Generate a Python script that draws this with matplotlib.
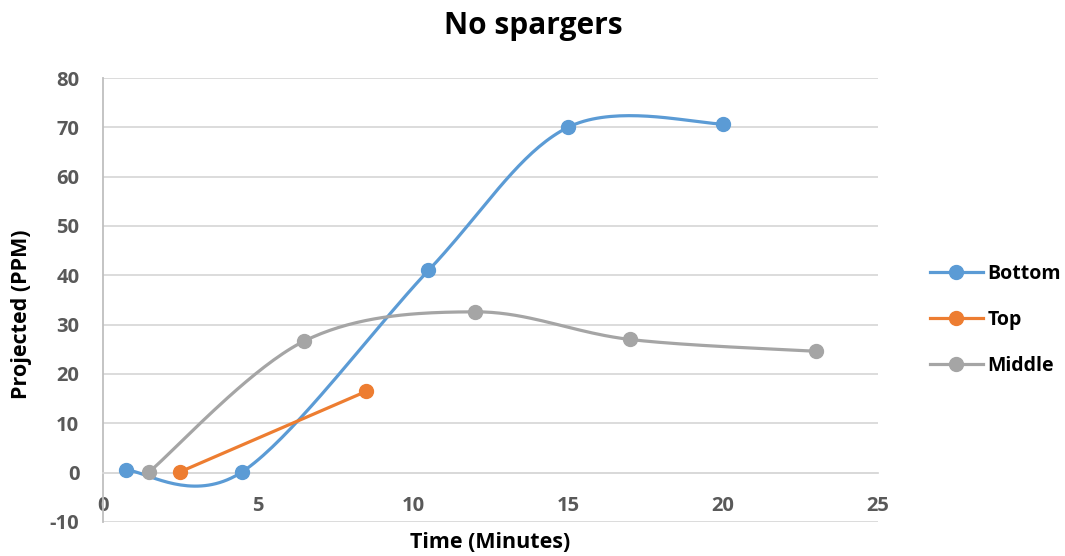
import numpy as np
import matplotlib
matplotlib.use("Agg")
import matplotlib.pyplot as plt

# series read as (minutes, ppm)
bottom_x = [0.75, 4.5, 10.5, 15, 20]
bottom_y = [0.5, 0.2, 41, 70, 70.7]
top_x = [2.5, 8.5]
top_y = [0.2, 16.5]
middle_x = [1.5, 6.5, 12, 17, 23]
middle_y = [0.2, 26.7, 32.6, 27, 24.6]

labels = ["Bottom", "Top", "Middle"]
colors = ["#5b9bd5", "#ed7d31", "#a5a5a5"]

plt.rcParams['font.family'] = ['Open Sans', 'DejaVu Sans']
plt.rcParams['axes.unicode_minus'] = False


def smooth(xs, ys, n=40):
    # spreadsheet-style smoothed line: cubic bezier through points,
    # control points at 1/6 of neighbour differences
    p = np.column_stack([xs, ys]).astype(float)
    if len(p) < 3:
        return p[:, 0], p[:, 1]
    ext = np.vstack([p[0], p, p[-1]])
    out = []
    t = np.linspace(0, 1, n)[:, None]
    for i in range(1, len(ext) - 2):
        p0, p3 = ext[i], ext[i + 1]
        c1 = p0 + (ext[i + 1] - ext[i - 1]) / 6
        c2 = p3 - (ext[i + 2] - ext[i]) / 6
        seg = ((1 - t) ** 3) * p0 + 3 * ((1 - t) ** 2) * t * c1 \
            + 3 * (1 - t) * t ** 2 * c2 + t ** 3 * p3
        out.append(seg)
    out = np.vstack(out)
    return out[:, 0], out[:, 1]


fig = plt.figure(figsize=(10.65, 5.56), dpi=100)
ax = fig.add_axes([0.0967, 0.0612, 0.7277, 0.7985])

handles = []
for xs, ys, c, lab in zip([bottom_x, top_x, middle_x],
                          [bottom_y, top_y, middle_y], colors, labels):
    sx, sy = smooth(xs, ys)
    ax.plot(sx, sy, color=c, lw=2.3, solid_capstyle='round', zorder=3)
    ax.plot(xs, ys, 'o', color=c, ms=10, zorder=4)
    h, = ax.plot([], [], '-o', color=c, lw=2.3, ms=10, label=lab)
    handles.append(h)

ax.set_xlim(0, 25)
ax.set_ylim(-10, 80)
ax.set_xticks(range(0, 26, 5))
ax.set_yticks(range(-10, 81, 10))
ax.yaxis.grid(True, color="#d9d9d9", lw=1.3, zorder=0)
ax.set_axisbelow(True)

for s in ['top', 'right']:
    ax.spines[s].set_visible(False)
ax.spines['left'].set_color("#bfbfbf")
ax.spines['left'].set_linewidth(1.3)
ax.spines['bottom'].set_position(('data', 0))
ax.spines['bottom'].set_color("#d9d9d9")
ax.spines['bottom'].set_linewidth(1.3)
ax.tick_params(length=0, labelsize=14.5, labelcolor="#595959")
ax.tick_params(axis='x', pad=17)
ax.tick_params(axis='y', pad=17)
for lbl in ax.get_xticklabels() + ax.get_yticklabels():
    lbl.set_fontweight('bold')

fig.text(533 / 1065, 1 - 26 / 556, "No spargers", fontsize=21.5,
         fontweight='bold', ha='center', va='center')
fig.text(490 / 1065, 1 - 543 / 556, "Time (Minutes)", fontsize=15.5,
         fontweight='bold', ha='center', va='center')
fig.text(22 / 1065, 1 - 314 / 556, "Projected (PPM)", fontsize=15.5,
         fontweight='bold', ha='center', va='center', rotation=90)

fig.legend(handles=handles, loc='center left', bbox_to_anchor=(0.866, 0.4245),
           frameon=False, prop={'size': 14, 'weight': 'bold'},
           handlelength=2.7, labelspacing=1.35, handletextpad=0.25,
           borderaxespad=0)

fig.savefig("out.png", dpi=100)
